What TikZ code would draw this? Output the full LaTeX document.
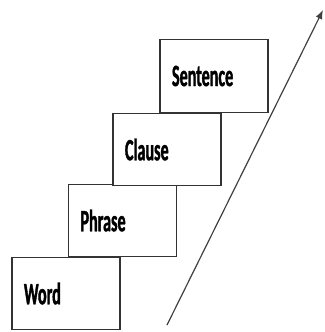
\documentclass[tikz,border=0pt]{standalone}
\usepackage{fontspec}
\newfontfamily\labfont[FakeStretch=0.52,FakeBold=1.2]{Carlito}
\usetikzlibrary{arrows.meta}
\begin{document}
\begin{tikzpicture}[x=1pt,y=-1pt,
  stepbox/.style={draw=black!80,line width=1.4pt,fill=white,minimum width=108pt,minimum height=72.5pt,
    inner xsep=12pt,text width=84pt,align=left,anchor=center,
    font=\labfont\bfseries\fontsize{31}{31}\selectfont},
  growth/.style={draw=black!75,line width=1.2pt,-{Latex[length=9pt,width=7pt]}}]
\useasboundingbox (0,0) rectangle (324,332);
\node[stepbox] (word) at (66,293.5) {Word};
\node[stepbox] (phrase) at (122.5,220.5) {Phrase};
\node[stepbox] (clause) at (167,149.5) {Clause};
\node[stepbox] (sentence) at (214,76) {Sentence};
\coordinate (a0) at (167,325);
\coordinate (a1) at (323,10);
\draw[growth] (a0) -- (a1);
\end{tikzpicture}
\end{document}
